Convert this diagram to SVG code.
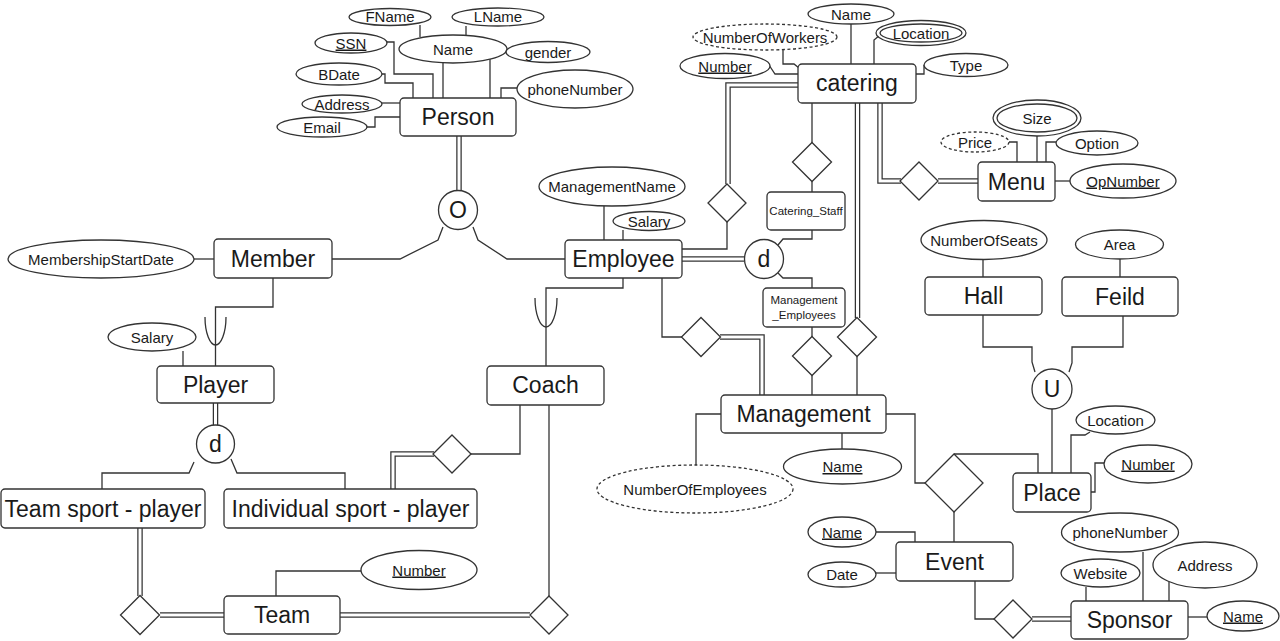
<svg xmlns="http://www.w3.org/2000/svg" width="1280" height="641" viewBox="0 0 1280 641">
<style>
.bg{fill:#fff}
.n{fill:#fff;stroke:#333;stroke-width:1.3}
.dash{stroke-dasharray:3 2.5}
.l{fill:none;stroke:#333;stroke-width:1.3}
.dl{fill:none;stroke:#333;stroke-width:5.5}
.dw{fill:none;stroke:#fff;stroke-width:3}
text{font-family:"Liberation Sans",Arial,sans-serif;fill:#1a1a1a;text-anchor:middle}
.t{font-size:23px}
.s{font-size:15px}
.xs{font-size:11.5px}
.u{text-decoration:underline}
</style>
<rect class="bg" x="0" y="0" width="1280" height="641"/>
<g id="connectors">
<!-- double lines -->
<g id="double-lines">
<path class="dl" d="M459,136 V191"/><path class="dw" d="M459,136 V191"/>
<path class="dl" d="M215.5,403 V425"/><path class="dw" d="M215.5,403 V425"/>
<path class="dl" d="M393,489 V454 H434"/><path class="dw" d="M393,489 V454 H434"/>
<path class="dl" d="M140,528 V596"/><path class="dw" d="M140,528 V596"/>
<path class="dl" d="M160,615 H224"/><path class="dw" d="M160,615 H224"/>
<path class="dl" d="M340,615 H530"/><path class="dw" d="M340,615 H530"/>
<path class="dl" d="M728,184 V85 H799"/><path class="dw" d="M728,184 V85 H799"/>
<path class="dl" d="M682,259 H744"/><path class="dw" d="M682,259 H744"/>
<path class="dl" d="M857.5,103 V318"/><path class="dw" d="M857.5,103 V318"/>
<path class="dl" d="M720,337 H762 V395"/><path class="dw" d="M720,337 H762 V395"/>
<path class="dl" d="M1032,619 H1071"/><path class="dw" d="M1032,619 H1071"/>
<path class="dl" d="M880,103 V181 H901"/><path class="dw" d="M880,103 V181 H901"/>
<path class="dl" d="M938,181 H978"/><path class="dw" d="M938,181 H978"/>
</g>
<!-- Person attributes -->
<path class="l" d="M420,25 V37"/>
<path class="l" d="M466,26 V37"/>
<path class="l" d="M443,63 V98"/>
<path class="l" d="M387,42 H394 V74 H433 V98"/>
<path class="l" d="M382,74 H385 V83 H413 V98"/>
<path class="l" d="M506,50 H490 V98"/>
<path class="l" d="M517,88 H501 V98"/>
<path class="l" d="M382,103 H400"/>
<path class="l" d="M365,127 H375 V117 H400"/>
<!-- O specialization -->
<path class="l" d="M443,227 L438,240 L400,259 H332"/>
<path class="l" d="M473,227 L478,240 L507,259 H565"/>
<!-- Member / Player -->
<path class="l" d="M194,259 H214"/>
<path class="l" d="M273,278 V307 H215.5 V366"/>
<path class="l" d="M205,317 C205,333 210,345 215.5,345 C221,345 226,333 226,317"/>
<path class="l" d="M183,351 V366"/>
<path class="l" d="M194,462 L189,473 H102 V489"/>
<path class="l" d="M231,459 L237,473 H345 V489"/>
<path class="l" d="M471,454 H520 V405"/>
<path class="l" d="M549,405 V596"/>
<path class="l" d="M361,571 H276 V596"/>
<!-- Employee -->
<path class="l" d="M604,206 V240"/>
<path class="l" d="M623,230 V240"/>
<path class="l" d="M623,278 V288 H546 V366"/>
<path class="l" d="M535,298 C535,314 540,327 546,327 C552,327 557,314 557,298"/>
<path class="l" d="M682,249 H727 V222"/>
<path class="l" d="M778,245 L783,239 H812 V230"/>
<path class="l" d="M812,192 V181"/>
<path class="l" d="M812,143 V103"/>
<path class="l" d="M778,273 L783,278 H812 V288"/>
<path class="l" d="M812,327 V337"/>
<path class="l" d="M812,375 V395"/>
<path class="l" d="M857,356 V395"/>
<path class="l" d="M662,278 V337 H682"/>
<!-- Management -->
<path class="l" d="M721,414 H696 V465"/>
<path class="l" d="M842,433 V449"/>
<path class="l" d="M886,414 H915 V483 H925"/>
<path class="l" d="M954,454 H1038 V473"/>
<path class="l" d="M954,512 V542"/>
<!-- Event -->
<path class="l" d="M876,532 H915 V542"/>
<path class="l" d="M876,573 H896"/>
<path class="l" d="M975,581 V619 H994"/>
<!-- Sponsor -->
<path class="l" d="M1086,587 V601"/>
<path class="l" d="M1143,552 V601"/>
<path class="l" d="M1169,582 V601"/>
<path class="l" d="M1188,617 H1207"/>
<!-- Place -->
<path class="l" d="M1052,409 V473"/>
<path class="l" d="M983,315 V347 H1032 V362 L1035,372"/>
<path class="l" d="M1123,316 V347 H1072 V363 L1069,372"/>
<path class="l" d="M983,259 V277"/>
<path class="l" d="M1120,259 V277"/>
<path class="l" d="M1090,432 L1085,435 H1071 V473"/>
<path class="l" d="M1104,463 H1095 V492 H1091"/>
<!-- catering -->
<path class="l" d="M851,24 V64"/>
<path class="l" d="M880,35 L874,40 V64"/>
<path class="l" d="M783,50 V64 H794 L799,68"/>
<path class="l" d="M769,65 L775,74 H799"/>
<path class="l" d="M924,65 V74 H916"/>
<!-- Menu -->
<path class="l" d="M1009,142 H1017 V162"/>
<path class="l" d="M1037,136 V162"/>
<path class="l" d="M1056,142 H1046 V162"/>
<path class="l" d="M1055,181 H1070"/>
</g>

<!-- Entities -->
<g id="person"><rect class="n" x="400" y="98" width="116" height="38" rx="4"/><text class="t" x="458" y="125">Person</text></g>
<g id="member"><rect class="n" x="214" y="239" width="118" height="39" rx="4"/><text class="t" x="273" y="267">Member</text></g>
<g id="player"><rect class="n" x="157" y="366" width="117" height="37" rx="4"/><text class="t" x="215.5" y="393">Player</text></g>
<g id="team-sport-player"><rect class="n" x="1" y="489" width="204" height="39" rx="4"/><text class="t" x="103" y="517">Team sport - player</text></g>
<g id="individual-sport-player"><rect class="n" x="224" y="489" width="253" height="39" rx="4"/><text class="t" x="350.5" y="517">Individual sport - player</text></g>
<g id="team"><rect class="n" x="224" y="596" width="116" height="38" rx="4"/><text class="t" x="282" y="623">Team</text></g>
<g id="coach"><rect class="n" x="487" y="366" width="117" height="39" rx="4"/><text class="t" x="545.5" y="393">Coach</text></g>
<g id="employee"><rect class="n" x="565" y="240" width="117" height="38" rx="4"/><text class="t" x="623.5" y="267">Employee</text></g>
<g id="catering-staff"><rect class="n" x="767" y="192" width="78" height="38" rx="4"/><text class="xs" x="806" y="215">Catering_Staff</text></g>
<g id="management-employees"><rect class="n" x="763" y="288" width="82" height="39" rx="4"/><text class="xs" x="804" y="304">Management</text><text class="xs" x="804" y="319">_Employees</text></g>
<g id="management"><rect class="n" x="721" y="395" width="165" height="38" rx="4"/><text class="t" x="803.5" y="422">Management</text></g>
<g id="catering"><rect class="n" x="798" y="64" width="118" height="39" rx="4"/><text class="t" x="857" y="91">catering</text></g>
<g id="menu"><rect class="n" x="978" y="162" width="77" height="39" rx="4"/><text class="t" x="1016.5" y="190">Menu</text></g>
<g id="hall"><rect class="n" x="925" y="277" width="117" height="38" rx="4"/><text class="t" x="983.5" y="304">Hall</text></g>
<g id="feild"><rect class="n" x="1062" y="277" width="116" height="39" rx="4"/><text class="t" x="1120" y="305">Feild</text></g>
<g id="place"><rect class="n" x="1013" y="473" width="78" height="39" rx="4"/><text class="t" x="1052" y="501">Place</text></g>
<g id="event"><rect class="n" x="896" y="542" width="117" height="39" rx="4"/><text class="t" x="954.5" y="570">Event</text></g>
<g id="sponsor"><rect class="n" x="1071" y="601" width="117" height="38" rx="4"/><text class="t" x="1129.5" y="628">Sponsor</text></g>

<!-- Circles -->
<g id="o-circle"><circle class="n" cx="458" cy="210" r="19.5"/><text class="t" x="458" y="218">O</text></g>
<g id="d-employee"><circle class="n" cx="764" cy="259" r="19.5"/><text class="t" x="764" y="267">d</text></g>
<g id="d-player"><circle class="n" cx="215.5" cy="444" r="19"/><text class="t" x="215.5" y="452">d</text></g>
<g id="u-circle"><circle class="n" cx="1052" cy="389" r="20"/><text class="t" x="1052" y="397">U</text></g>

<!-- Diamonds -->
<g id="rel-employee-catering"><path class="n" d="M727,184 L746,203 L727,222 L708,203 Z"/></g>
<g id="rel-catering-staff"><path class="n" d="M812,142.5 L831.5,162 L812,181.5 L792.5,162 Z"/></g>
<g id="rel-catering-menu"><path class="n" d="M919,162 L938,181 L919,200 L900,181 Z"/></g>
<g id="rel-mgmt-employees"><path class="n" d="M812,336.5 L831.5,356 L812,375.5 L792.5,356 Z"/></g>
<g id="rel-catering-management"><path class="n" d="M857,317.5 L876.5,337 L857,356.5 L837.5,337 Z"/></g>
<g id="rel-employee-management"><path class="n" d="M701,317.5 L720.5,337 L701,356.5 L681.5,337 Z"/></g>
<g id="rel-coach-individual"><path class="n" d="M452,435 L471,454 L452,473 L433,454 Z"/></g>
<g id="rel-teamsport-team"><path class="n" d="M140,595.5 L159.5,615 L140,634.5 L120.5,615 Z"/></g>
<g id="rel-team-coach"><path class="n" d="M549,596 L568,615 L549,634 L530,615 Z"/></g>
<g id="rel-management-event-place"><path class="n" d="M954,454 L983,483 L954,512 L925,483 Z"/></g>
<g id="rel-event-sponsor"><path class="n" d="M1013,600 L1032,619 L1013,638 L994,619 Z"/></g>

<!-- Attributes -->
<g id="attr-fname"><ellipse class="n" cx="390" cy="17" rx="41" ry="8.5"/><text class="s" x="390" y="22">FName</text></g>
<g id="attr-lname"><ellipse class="n" cx="498" cy="17" rx="46" ry="9"/><text class="s" x="498" y="22">LName</text></g>
<g id="attr-name"><ellipse class="n" cx="453" cy="49" rx="54" ry="14"/><text class="s" x="453" y="54.5">Name</text></g>
<g id="attr-ssn"><ellipse class="n" cx="351" cy="43" rx="36" ry="10"/><text class="s u" x="351" y="48.5">SSN</text></g>
<g id="attr-bdate"><ellipse class="n" cx="339" cy="74" rx="43" ry="11"/><text class="s" x="339" y="79.5">BDate</text></g>
<g id="attr-gender"><ellipse class="n" cx="548" cy="52" rx="42" ry="10.5"/><text class="s" x="548" y="57.5">gender</text></g>
<g id="attr-person-phone"><ellipse class="n" cx="575" cy="89" rx="58" ry="19"/><text class="s" x="575" y="94.5">phoneNumber</text></g>
<g id="attr-address"><ellipse class="n" cx="342" cy="104" rx="40" ry="9"/><text class="s" x="342" y="109.5">Address</text></g>
<g id="attr-email"><ellipse class="n" cx="322" cy="127" rx="45" ry="10"/><text class="s" x="322" y="132.5">Email</text></g>
<g id="attr-membership"><ellipse class="n" cx="101" cy="259" rx="93" ry="19"/><text class="s" x="101" y="264.5">MembershipStartDate</text></g>
<g id="attr-player-salary"><ellipse class="n" cx="152" cy="337" rx="44" ry="14"/><text class="s" x="152" y="342.5">Salary</text></g>
<g id="attr-team-number"><ellipse class="n" cx="419" cy="570" rx="58" ry="19.5"/><text class="s u" x="419" y="575.5">Number</text></g>
<g id="attr-mgmt-name"><ellipse class="n" cx="612" cy="186.5" rx="73" ry="19.5"/><text class="s" x="612" y="192">ManagementName</text></g>
<g id="attr-emp-salary"><ellipse class="n" cx="649" cy="221" rx="36" ry="9.5"/><text class="s" x="649" y="226.5">Salary</text></g>
<g id="attr-cat-name"><ellipse class="n" cx="851" cy="14" rx="43" ry="10"/><text class="s" x="851" y="19.5">Name</text></g>
<g id="attr-cat-location"><ellipse class="n" cx="921" cy="33" rx="45" ry="12.5"/><ellipse class="n" cx="921" cy="33" rx="41" ry="9"/><text class="s" x="921" y="38.5">Location</text></g>
<g id="attr-workers"><ellipse class="n dash" cx="765" cy="37" rx="72" ry="13"/><text class="s" x="765" y="42.5">NumberOfWorkers</text></g>
<g id="attr-cat-number"><ellipse class="n" cx="725" cy="66" rx="45" ry="12.5"/><text class="s u" x="725" y="71.5">Number</text></g>
<g id="attr-type"><ellipse class="n" cx="966" cy="65" rx="42" ry="11.5"/><text class="s" x="966" y="70.5">Type</text></g>
<g id="attr-size"><ellipse class="n" cx="1037" cy="118" rx="44" ry="18"/><ellipse class="n" cx="1037" cy="118" rx="40" ry="14"/><text class="s" x="1037" y="123.5">Size</text></g>
<g id="attr-price"><ellipse class="n dash" cx="975" cy="142" rx="34" ry="10"/><text class="s" x="975" y="147.5">Price</text></g>
<g id="attr-option"><ellipse class="n" cx="1097" cy="143" rx="41" ry="12"/><text class="s" x="1097" y="148.5">Option</text></g>
<g id="attr-opnumber"><ellipse class="n" cx="1123" cy="181" rx="53" ry="17"/><text class="s u" x="1123" y="186.5">OpNumber</text></g>
<g id="attr-seats"><ellipse class="n" cx="984" cy="240" rx="63" ry="19.5"/><text class="s" x="984" y="245.5">NumberOfSeats</text></g>
<g id="attr-area"><ellipse class="n" cx="1119.5" cy="244.5" rx="44" ry="14.5"/><text class="s" x="1119.5" y="250">Area</text></g>
<g id="attr-place-location"><ellipse class="n" cx="1115.5" cy="420" rx="39.5" ry="14"/><text class="s" x="1115.5" y="425.5">Location</text></g>
<g id="attr-place-number"><ellipse class="n" cx="1148" cy="464" rx="44" ry="19"/><text class="s u" x="1148" y="469.5">Number</text></g>
<g id="attr-employees"><ellipse class="n dash" cx="695" cy="489" rx="98" ry="24"/><text class="s" x="695" y="494.5">NumberOfEmployees</text></g>
<g id="attr-management-name"><ellipse class="n" cx="842.5" cy="466.5" rx="59" ry="17.5"/><text class="s u" x="842.5" y="472">Name</text></g>
<g id="attr-event-name"><ellipse class="n" cx="842" cy="532" rx="34" ry="15"/><text class="s u" x="842" y="537.5">Name</text></g>
<g id="attr-date"><ellipse class="n" cx="842" cy="574.5" rx="34" ry="12.5"/><text class="s" x="842" y="580">Date</text></g>
<g id="attr-sponsor-phone"><ellipse class="n" cx="1120" cy="532.5" rx="58.5" ry="19.5"/><text class="s" x="1120" y="538">phoneNumber</text></g>
<g id="attr-website"><ellipse class="n" cx="1100.5" cy="573" rx="39.5" ry="14"/><text class="s" x="1100.5" y="578.5">Website</text></g>
<g id="attr-sponsor-address"><ellipse class="n" cx="1205" cy="565" rx="52" ry="23"/><text class="s" x="1205" y="570.5">Address</text></g>
<g id="attr-sponsor-name"><ellipse class="n" cx="1243" cy="616" rx="36" ry="15"/><text class="s u" x="1243" y="621.5">Name</text></g>
</svg>
